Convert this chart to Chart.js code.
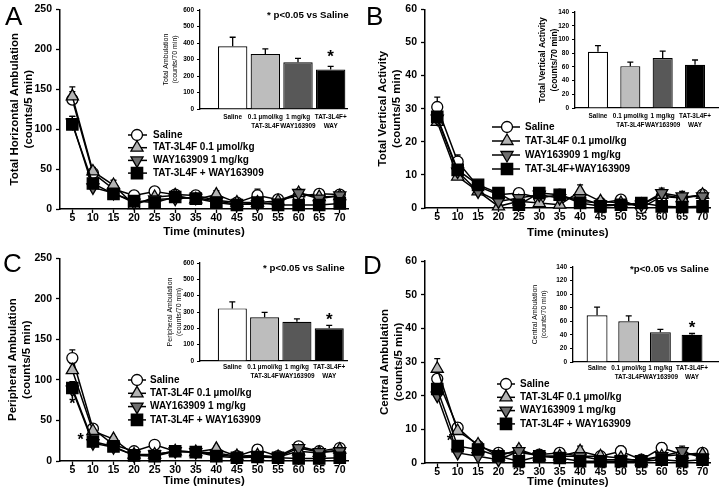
<!DOCTYPE html>
<html>
<head>
<meta charset="utf-8">
<script src="https://cdn.jsdelivr.net/npm/chart.js@4.4.1/dist/chart.umd.min.js"></script>
<style>
  body { margin: 0; background: #fff; }
  #fig { position: relative; width: 720px; height: 498px; overflow: hidden; background: #fff;
         font-family: "Liberation Sans", Arial, sans-serif; }
  #fig canvas { position: absolute; }
  .letter { position: absolute; font-size: 26px; line-height: 1; color: #000; }
  .note { position: absolute; font-size: 9.7px; font-weight: bold; white-space: nowrap; line-height: 1; }
</style>
</head>
<body>
<div id="fig">
  <canvas id="lineA" width="360" height="249" style="left:0;top:0"></canvas>
  <canvas id="lineB" width="360" height="249" style="left:360px;top:0"></canvas>
  <canvas id="lineC" width="360" height="249" style="left:0;top:249px"></canvas>
  <canvas id="lineD" width="360" height="249" style="left:360px;top:249px"></canvas>
  <canvas id="barA" width="210" height="135" style="left:150px;top:0"></canvas>
  <canvas id="barB" width="210" height="135" style="left:510px;top:0"></canvas>
  <canvas id="barC" width="210" height="135" style="left:150px;top:249px"></canvas>
  <canvas id="barD" width="210" height="135" style="left:510px;top:249px"></canvas>
  <div class="letter" style="left:5px;top:3px">A</div>
  <div class="letter" style="left:366px;top:3px">B</div>
  <div class="letter" style="left:3px;top:250px">C</div>
  <div class="letter" style="left:363px;top:252px">D</div>
  <div class="note" style="left:267px;top:10px">* p&lt;0.05 vs Saline</div>
  <div class="note" style="left:263px;top:263px">* p&lt;0.05 vs Saline</div>
  <div class="note" style="left:630px;top:264px">*p&lt;0.05 vs Saline</div>
</div>
<script>
// time bins (minutes)
const minutes = [5, 10, 15, 20, 25, 30, 35, 40, 45, 50, 55, 60, 65, 70];

// legend names
const groupsAC = ['Saline', 'TAT-3L4F 0.1 µmol/kg', 'WAY163909 1 mg/kg', 'TAT-3L4F + WAY163909'];
const groupsB = ['Saline', 'TAT-3L4F 0.1 µmol/kg', 'WAY163909 1 mg/kg', 'TAT-3L4F+WAY163909'];
const groupsD = ['Saline', 'TAT-3L4F 0.1 µmol/kg', 'WAY163909 1 mg/kg', 'TAT-3L4F + WAY163909'];

// A: total horizontal ambulation, rows = saline, TAT, WAY, TAT+WAY
const horizMean = [
  [137, 45, 25, 17, 22, 18, 17, 11, 8, 17, 12, 16, 19, 18],
  [141, 47, 30, 5, 15, 17, 12, 18, 8, 8, 10, 20, 15, 16],
  [108, 27, 20, 8, 12, 13, 14, 10, 6, 6, 8, 20, 13, 17],
  [106, 32, 19, 10, 8, 15, 13, 8, 5, 8, 5, 5, 5, 7]
];
const horizSem = [
  [10, 5, 4, 3, 3, 4, 3, 3, 2, 8, 3, 3, 3, 3],
  [12, 5, 6, 2, 3, 4, 3, 5, 3, 3, 3, 5, 3, 3],
  [8, 3, 3, 2, 3, 3, 3, 3, 2, 3, 2, 3, 2, 2],
  [10, 3, 3, 2, 2, 3, 2, 3, 2, 3, 2, 2, 2, 2]
];

// B: total vertical activity
const vertMean = [
  [30.5, 14, 6.5, 4, 4.5, 3, 4, 2, 1.5, 2.5, 0, 3.5, 3, 4],
  [26, 9.5, 5, 0.5, 2, 1.5, 1, 5, 2, 1.5, 1, 4, 3, 4],
  [27, 11, 5, 2, 3, 4, 3, 3, 1, 1, 1, 4.5, 3.5, 3.5],
  [27.5, 11.5, 7, 4.5, 1, 4.5, 4, 1.5, 0.5, 1, 1.5, 0.5, 0.3, 0.5]
];
const vertSem = [
  [3, 2, 1, 1, 1, 1, 1, 1, 1, 1, 0.5, 1, 1, 1],
  [3, 1.5, 1, 0.5, 1, 1, 1, 2, 1, 1, 0.5, 1, 1, 1],
  [2, 1.5, 1, 1, 1, 1, 1, 1, 0.5, 0.5, 0.5, 1.5, 1.5, 1],
  [2, 1.5, 1, 1, 0.5, 1.5, 1, 1, 0.5, 0.5, 0.5, 0.5, 0.5, 0.5]
];

// C: peripheral ambulation
const periMean = [
  [127, 40, 20, 12, 20, 12, 11, 10, 6, 14, 6, 18, 12, 16],
  [112, 37, 27, 8, 8, 12, 11, 15, 6, 7, 5, 12, 10, 14],
  [88, 22, 17, 7, 8, 12, 11, 8, 5, 6, 5, 16, 11, 12],
  [90, 24, 18, 7, 6, 12, 11, 6, 4, 5, 4, 3, 3, 4]
];
const periSem = [
  [10, 3, 3, 2, 3, 2, 2, 2, 2, 6, 2, 3, 2, 3],
  [8, 4, 3, 2, 2, 2, 2, 3, 2, 2, 2, 4, 2, 3],
  [8, 3, 2, 2, 2, 2, 2, 2, 2, 2, 2, 3, 2, 2],
  [8, 3, 2, 2, 2, 2, 2, 2, 2, 2, 2, 2, 2, 2]
];

// D: central ambulation
const centMean = [
  [25, 10.5, 5, 3, 3, 2.5, 3, 2, 2, 3.5, 1, 4.5, 2.5, 3],
  [28, 9.5, 5.5, 2, 4, 2, 2, 3.5, 2, 1.5, 0.5, 2, 2.5, 2.5],
  [20, 3, 2, 1, 3.5, 2, 2, 2, 1, 1, 1, 2, 3.5, 1.5],
  [22, 5, 4, 2, 0.5, 2, 1.5, 0.5, 0.5, 0.5, 0.5, 1, 0.5, 1]
];
const centSem = [
  [2, 1.5, 1, 0.5, 0.5, 0.5, 0.5, 0.5, 0.5, 1.5, 0.5, 1.5, 0.5, 0.5],
  [3, 1.5, 1, 0.5, 1, 0.5, 0.5, 1.5, 0.5, 0.5, 0.5, 0.5, 0.5, 0.5],
  [2, 1, 1, 0.5, 1, 0.5, 0.5, 0.5, 0.5, 0.5, 0.5, 1, 1.5, 0.5],
  [2, 1, 1, 0.5, 0.5, 0.5, 0.5, 0.5, 0.5, 0.5, 0.5, 0.5, 0.5, 0.5]
];

// inset bars (counts/70 min)
const barLabels = [['Saline'], ['0.1 µmol/kg', 'TAT-3L4F'], ['1 mg/kg', 'WAY163909'], ['TAT-3L4F+', 'WAY']];
const totalAmb = [380, 333, 283, 240];
const totalAmbSem = [55, 32, 24, 18];
const totalVert = [82, 61, 73, 63];
const totalVertSem = [9, 6, 10, 7];
const periTotal = [322, 268, 240, 200];
const periTotalSem = [40, 30, 18, 18];
const centTotal = [69, 60, 44, 40];
const centTotalSem = [12, 8, 4, 2];

// significance marks [x, y] in data units
const starsBarA = [[4, 315]];
const starsBarC = [[4, 251]];
const starsBarD = [[4, 50]];
const starsLineC = [[5, 69], [7, 25]];
const starsLineD = [[8.1, 6.5]];

const SANS = '"Liberation Sans", Arial, sans-serif';
Chart.defaults.font.family = SANS;
Chart.defaults.color = '#000';

const seriesLook = [
  { pointStyle: 'circle', bg: '#ffffff', r: 5.5, rot: 0 },
  { pointStyle: 'triangle', bg: '#b4b4b4', r: 7, rot: 0 },
  { pointStyle: 'triangle', bg: '#6f6f6f', r: 7, rot: 180 },
  { pointStyle: 'rect', bg: '#000000', r: 8, rot: 0 }
];
const barColors = ['#ffffff', '#bdbdbd', '#585858', '#000000'];

// upward-only error bars
const errorBars = {
  id: 'errorBars',
  beforeDatasetsDraw(chart) {
    const ctx = chart.ctx;
    const ys = chart.scales.y;
    chart.data.datasets.forEach((ds, i) => {
      if (!ds.errors) return;
      const meta = chart.getDatasetMeta(i);
      ctx.save();
      ctx.strokeStyle = '#000';
      ctx.lineWidth = ds.errWidth || 1.3;
      meta.data.forEach((el, j) => {
        const v = ds.data[j].y;
        const top = ys.getPixelForValue(v + ds.errors[j]);
        const cap = ds.errCap || 3;
        ctx.beginPath();
        ctx.moveTo(el.x, el.y);
        ctx.lineTo(el.x, top);
        ctx.moveTo(el.x - cap, top);
        ctx.lineTo(el.x + cap, top);
        ctx.stroke();
      });
      ctx.restore();
    });
  }
};

const stars = {
  id: 'stars',
  afterDatasetsDraw(chart, args, o) {
    if (!o.items) return;
    const ctx = chart.ctx;
    ctx.save();
    ctx.font = o.font;
    ctx.textAlign = 'center';
    ctx.textBaseline = 'middle';
    ctx.fillStyle = '#000';
    o.items.forEach(p => {
      ctx.fillText('*', chart.scales.x.getPixelForValue(p[0]), chart.scales.y.getPixelForValue(p[1]));
    });
    ctx.restore();
  }
};

// legend drawn inside the plot
const boxLegend = {
  id: 'boxLegend',
  afterDraw(chart, args, o) {
    if (!o.labels) return;
    const ctx = chart.ctx;
    ctx.save();
    ctx.textBaseline = 'middle';
    chart.data.datasets.forEach((ds, k) => {
      const y = o.y + k * o.gap;
      ctx.strokeStyle = '#000';
      ctx.lineWidth = 1.5;
      ctx.beginPath();
      ctx.moveTo(o.lineL, y);
      ctx.lineTo(o.lineR, y);
      ctx.stroke();
      ctx.fillStyle = ds.pointBackgroundColor;
      ctx.lineWidth = ds.pointBorderWidth;
      if (Chart.helpers && Chart.helpers.drawPoint) {
        Chart.helpers.drawPoint(ctx, { pointStyle: ds.pointStyle, rotation: ds.pointRotation,
          radius: ds.pointRadius, borderWidth: ds.pointBorderWidth }, o.x, y);
      } else {
        ctx.beginPath(); ctx.arc(o.x, y, 5, 0, Math.PI * 2); ctx.fill(); ctx.stroke();
      }
      ctx.fillStyle = '#000';
      ctx.font = o.font;
      ctx.fillText(o.labels[k], o.textX, y);
    });
    ctx.restore();
  }
};

function makeLine(id, means, sems, p) {
  new Chart(document.getElementById(id), {
    type: 'line',
    data: {
      datasets: means.map((m, k) => ({
        data: m.map((v, i) => ({ x: minutes[i], y: v })),
        errors: sems[k],
        errCap: 3,
        borderColor: '#000',
        borderWidth: 1.5,
        pointStyle: seriesLook[k].pointStyle,
        pointRotation: seriesLook[k].rot,
        pointRadius: seriesLook[k].r,
        pointBackgroundColor: seriesLook[k].bg,
        pointBorderColor: '#000',
        pointBorderWidth: 1.3,
        clip: false,
        order: 3 - k
      }))
    },
    options: {
      responsive: false,
      animation: false,
      events: [],
      layout: { padding: { left: 0, top: p.top, right: p.right, bottom: 0 } },
      plugins: {
        legend: { display: false },
        tooltip: { enabled: false },
        boxLegend: Object.assign({ font: 'bold 10px ' + SANS }, p.legend),
        stars: { items: p.stars, font: 'bold 16px ' + SANS }
      },
      scales: {
        x: {
          type: 'linear', min: 2, max: 72,
          afterBuildTicks: s => { s.ticks = minutes.map(v => ({ value: v })); },
          afterFit: s => { s.height = p.xh; },
          grid: { drawOnChartArea: false, tickLength: 4, color: '#000', tickWidth: 1.3 },
          border: { color: '#000', width: 1.5 },
          ticks: { font: { size: 10.5, weight: 'bold', lineHeight: 1 }, padding: 0, maxRotation: 0, autoSkip: false },
          title: { display: true, text: 'Time (minutes)', font: { size: 11.5, weight: 'bold', lineHeight: 1.2 },
                   padding: { top: 0, bottom: p.xtPad } }
        },
        y: {
          min: 0, max: p.ymax,
          afterFit: s => { s.width = p.yw; },
          grid: { drawOnChartArea: false, tickLength: 4, color: '#000', tickWidth: 1.3 },
          border: { color: '#000', width: 1.5 },
          ticks: { stepSize: p.step, font: { size: 10.5, weight: 'bold', lineHeight: 1 }, padding: 4 },
          title: { display: true, text: p.ytitle, font: { size: 11.5, weight: 'bold', lineHeight: 1.2 },
                   padding: { top: p.ytPad, bottom: 0 } }
        }
      }
    },
    plugins: [errorBars, boxLegend, stars]
  });
}

function makeBar(id, values, sems, p) {
  new Chart(document.getElementById(id), {
    type: 'bar',
    data: {
      datasets: [{
        data: values.map((v, i) => ({ x: i + 1, y: v })),
        errors: sems,
        errCap: 3,
        errWidth: 1.3,
        backgroundColor: barColors,
        borderColor: '#000',
        borderWidth: 1.2,
        barPercentage: p.barPct,
        categoryPercentage: 1
      }]
    },
    options: {
      responsive: false,
      animation: false,
      events: [],
      layout: { padding: { left: 0, top: p.top, right: p.right, bottom: 0 } },
      plugins: {
        legend: { display: false },
        tooltip: { enabled: false },
        stars: { items: p.stars, font: 'bold 17px ' + SANS }
      },
      scales: {
        x: {
          type: 'linear', min: p.xmin, max: p.xmax, offset: false,
          afterBuildTicks: s => { s.ticks = barLabels.map((l, i) => ({ value: i + 1 })); },
          afterFit: s => { s.height = p.xh; },
          grid: { display: false, drawTicks: false, offset: false },
          border: { color: '#000', width: 1.3 },
          ticks: { font: { size: 6.4, weight: 'bold', lineHeight: 1.5 }, padding: p.xPad,
                   maxRotation: 0, autoSkip: false, callback: v => barLabels[v - 1] }
        },
        y: {
          min: 0, max: p.ymax,
          afterFit: s => { s.width = p.yw; },
          grid: { drawOnChartArea: false, tickLength: 3, color: '#000', tickWidth: 1 },
          border: { color: '#000', width: 1.3 },
          ticks: { stepSize: p.step, font: { size: 6.5, weight: 'bold', lineHeight: 1 }, padding: 3 },
          title: { display: true, text: p.ytitle, font: p.ytFont, padding: { top: p.ytPad, bottom: 0 } }
        }
      }
    },
    plugins: [errorBars, stars]
  });
}

makeLine('lineA', horizMean, horizSem, {
  top: 7, right: 12, yw: 60, xh: 40, ymax: 250, step: 50, xtPad: 10, ytPad: 8,
  ytitle: ['Total Horizontal Ambulation', '(counts/5 min)'],
  legend: { labels: groupsAC, x: 137, y: 135, gap: 12.7, lineL: 128, lineR: 147, textX: 153 }
});
makeLine('lineB', vertMean, vertSem, {
  top: 6, right: 5, yw: 65, xh: 41, ymax: 60, step: 10, xtPad: 9, ytPad: 16,
  ytitle: ['Total Vertical Activity', '(counts/5 min)'],
  legend: { labels: groupsB, x: 147, y: 127, gap: 14, lineL: 132, lineR: 160, textX: 165 }
});
makeLine('lineC', periMean, periSem, {
  top: 9, right: 12, yw: 60, xh: 37, ymax: 250, step: 50, xtPad: 10, ytPad: 6,
  ytitle: ['Peripheral Ambulation', '(counts/5 min)'], stars: starsLineC,
  legend: { labels: groupsAC, x: 137, y: 131, gap: 13.3, lineL: 128, lineR: 146, textX: 150 }
});
makeLine('lineD', centMean, centSem, {
  top: 12, right: 5, yw: 65, xh: 35, ymax: 60, step: 10, xtPad: 9, ytPad: 18,
  ytitle: ['Central Ambulation', '(counts/5 min)'], stars: starsLineD,
  legend: { labels: groupsD, x: 146, y: 135, gap: 13.3, lineL: 137, lineR: 155, textX: 160 }
});

makeBar('barA', totalAmb, totalAmbSem, {
  top: 10, right: 13, yw: 50, xh: 26, ymax: 600, step: 100, xmin: 0, xmax: 4.5, barPct: 0.9, xPad: 3,
  ytitle: ['Total Ambulation', '(counts/70 min)'], ytFont: { size: 7, lineHeight: 1.35 }, ytPad: 11,
  stars: starsBarA
});
makeBar('barB', totalVert, totalVertSem, {
  top: 12, right: 2, yw: 65, xh: 27, ymax: 140, step: 20, xmin: 0.29, xmax: 4.71, barPct: 0.62, xPad: 3,
  ytitle: ['Total Vertical Activity', '(counts/70 min)'], ytFont: { size: 8.5, weight: 'bold', lineHeight: 1.45 }, ytPad: 26
});
makeBar('barC', periTotal, periTotalSem, {
  top: 14, right: 13, yw: 50, xh: 23, ymax: 600, step: 100, xmin: 0, xmax: 4.55, barPct: 0.9, xPad: 1,
  ytitle: ['Peripheral Ambulation', '(counts/70 min)'], ytFont: { size: 7, lineHeight: 1.35 }, ytPad: 15,
  stars: starsBarC
});
makeBar('barD', centTotal, centTotalSem, {
  top: 18, right: 2, yw: 63, xh: 22, ymax: 140, step: 20, xmin: 0.24, xmax: 4.82, barPct: 0.66, xPad: 1,
  ytitle: ['Central Ambulation', '(counts/70 min)'], ytFont: { size: 7, lineHeight: 1.35 }, ytPad: 20,
  stars: starsBarD
});
</script>
</body>
</html>
